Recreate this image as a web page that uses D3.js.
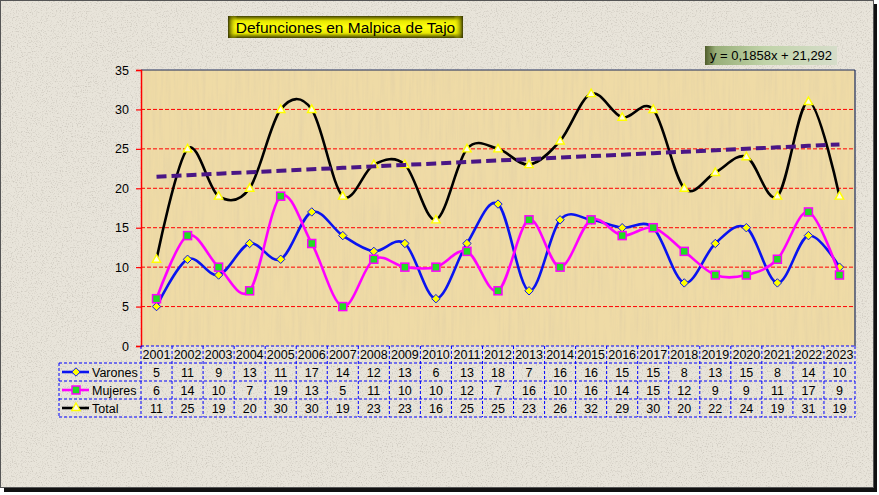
<!DOCTYPE html>
<html>
<head>
<meta charset="utf-8">
<script src="https://cdn.jsdelivr.net/npm/d3@7/dist/d3.min.js"></script>
<style>
html,body{margin:0;padding:0;background:#ffffff;}
svg{display:block;font-family:"Liberation Sans",Arial,sans-serif;}
</style>
</head>
<body>
<svg id="chart" width="879" height="495"></svg>
<script>
const years = ["2001","2002","2003","2004","2005","2006","2007","2008","2009","2010","2011","2012","2013","2014","2015","2016","2017","2018","2019","2020","2021","2022","2023"];
const varones = [5,11,9,13,11,17,14,12,13,6,13,18,7,16,16,15,15,8,13,15,8,14,10];
const mujeres = [6,14,10,7,19,13,5,11,10,10,12,7,16,10,16,14,15,12,9,9,11,17,9];
const total = [11,25,19,20,30,30,19,23,23,16,25,25,23,26,32,29,30,20,22,24,19,31,19];
const yTicks = [0,5,10,15,20,25,30,35];
const trendSlope = 0.1858;
const trendIntercept = 21.292;
const titleText = "Defunciones en Malpica de Tajo";
const trendLabel = "y = 0,1858x + 21,292";
const seriesNames = ["Varones","Mujeres","Total"];

const svg = d3.select("#chart");
const defs = svg.append("defs");

// textures
const fStone = defs.append("filter").attr("id","stone").attr("x",0).attr("y",0).attr("width","100%").attr("height","100%");
fStone.append("feTurbulence").attr("type","fractalNoise").attr("baseFrequency","0.8").attr("numOctaves",2).attr("seed",3).attr("result","n");
fStone.append("feColorMatrix").attr("in","n").attr("type","matrix")
  .attr("values","0 0 0 0 0.55  0 0 0 0 0.52  0 0 0 0 0.46  0 0 0 -3.2 1.55").attr("result","c");
fStone.append("feComposite").attr("in","c").attr("in2","SourceGraphic").attr("operator","in");

const fPap = defs.append("filter").attr("id","pap").attr("x",0).attr("y",0).attr("width","100%").attr("height","100%");
fPap.append("feTurbulence").attr("type","fractalNoise").attr("baseFrequency","0.35 0.02").attr("numOctaves",2).attr("seed",7).attr("result","n");
fPap.append("feColorMatrix").attr("in","n").attr("type","matrix")
  .attr("values","0 0 0 0 0.78  0 0 0 0 0.64  0 0 0 0 0.38  0 0 0 -1.6 1.0").attr("result","c");
fPap.append("feComposite").attr("in","c").attr("in2","SourceGraphic").attr("operator","in");

const gTitle = defs.append("linearGradient").attr("id","gTitle").attr("x1",0).attr("y1",0).attr("x2",0).attr("y2",1);
[["0%","#3e3e00"],["22%","#e8e800"],["50%","#ffff10"],["78%","#e8e800"],["100%","#3e3e00"]].forEach(s=>gTitle.append("stop").attr("offset",s[0]).attr("stop-color",s[1]));
const gTitleH = defs.append("linearGradient").attr("id","gTitleH").attr("x1",0).attr("y1",0).attr("x2",1).attr("y2",0);
[["0%","#2e2e00",0.95],["4%","#ffff00",0],["96%","#ffff00",0],["100%","#2e2e00",0.95]].forEach(s=>gTitleH.append("stop").attr("offset",s[0]).attr("stop-color",s[1]).attr("stop-opacity",s[2]));

const gTrend = defs.append("linearGradient").attr("id","gTrend").attr("x1",0).attr("y1",0).attr("x2",1).attr("y2",0);
[["0%","#4f5c2a"],["8%","#98ae78"],["45%","#c0d3a8"],["100%","#d6ddca"]].forEach(s=>gTrend.append("stop").attr("offset",s[0]).attr("stop-color",s[1]));

// frame
svg.append("rect").attr("x",4).attr("y",4).attr("width",873).attr("height",488).attr("fill","#111");
svg.append("rect").attr("x",0.5).attr("y",0.5).attr("width",873).attr("height",487).attr("fill","#e8e4da").attr("stroke","#555").attr("stroke-width",1);
svg.append("rect").attr("x",1).attr("y",1).attr("width",872).attr("height",486).attr("fill","#e8e4da").attr("filter","url(#stone)").attr("opacity",0.7);

// scales
const x = d3.scaleBand().domain(years).range([141,855]);
const y = d3.scaleLinear().domain([0,35]).range([346,70]);
const cx = d => x(d) + x.bandwidth()/2;

// plot area
svg.append("rect").attr("x",141).attr("y",70).attr("width",714).attr("height",276).attr("fill","#efdba6");
svg.append("rect").attr("x",141).attr("y",70).attr("width",714).attr("height",276).attr("fill","#efdba6").attr("filter","url(#pap)").attr("opacity",0.85);

// gridlines
svg.append("g").selectAll("line").data(yTicks.filter(t=>t>0 && t<35)).join("line")
  .attr("x1",141).attr("x2",855).attr("y1",d=>y(d)).attr("y2",d=>y(d))
  .attr("stroke","#ff0000").attr("stroke-width",1).attr("stroke-dasharray","4,2");
// top & right borders
svg.append("line").attr("x1",141).attr("x2",855).attr("y1",70).attr("y2",70).attr("stroke","#1c2a5a").attr("stroke-width",1.2);
svg.append("line").attr("x1",855).attr("x2",855).attr("y1",70).attr("y2",346).attr("stroke","#1c2a5a").attr("stroke-width",1.2);

// y axis
const yAxis = svg.append("g").attr("transform","translate(141,0)")
  .call(d3.axisLeft(y).tickValues(yTicks).tickSize(5).tickPadding(7).tickFormat(d3.format("d")));
yAxis.select(".domain").attr("stroke","#ff0000").attr("stroke-width",1.5);
yAxis.selectAll(".tick line").attr("stroke","#ff0000").attr("stroke-width",1.2);
yAxis.selectAll(".tick text").attr("fill","#000").attr("font-size",12.5).attr("font-family","Liberation Sans, Arial, sans-serif");

// lines
const line = d3.line().x((d,i)=>cx(years[i])).y(d=>y(d)).curve(d3.curveCardinal.tension(0));
const plot = svg.append("g");
const seriesDefs = [
  {name:seriesNames[0], data:varones, color:"#0a14f0", marker:"diamond"},
  {name:seriesNames[1], data:mujeres, color:"#ff00ff", marker:"square"},
  {name:seriesNames[2], data:total, color:"#000000", marker:"triangle"}
];
function drawMarker(g, type, px, py){
  if(type==="diamond"){
    g.append("path").attr("d",`M${px},${py-4.2}L${px+4.2},${py}L${px},${py+4.2}L${px-4.2},${py}Z`)
      .attr("fill","#ffff00").attr("stroke","#0a14f0").attr("stroke-width",1);
  } else if(type==="square"){
    g.append("rect").attr("x",px-4).attr("y",py-4).attr("width",8).attr("height",8)
      .attr("fill","#22dd22").attr("stroke","#ff00ff").attr("stroke-width",1.5);
  } else {
    g.append("path").attr("d",`M${px},${py-4.5}L${px+4.2},${py+3}L${px-4.2},${py+3}Z`)
      .attr("fill","#fffbe6").attr("stroke","#ffff00").attr("stroke-width",1.4);
  }
}
seriesDefs.forEach(s=>{
  plot.append("path").datum(s.data).attr("d",line).attr("fill","none")
    .attr("stroke",s.color).attr("stroke-width",2.6);
  const mg = plot.append("g");
  s.data.forEach((v,i)=>drawMarker(mg, s.marker, cx(years[i]), y(v)));
});

// trendline
const trendPts = years.map((yr,i)=>[cx(yr), y(trendSlope*(i+1)+trendIntercept)]);
plot.append("path").attr("d",d3.line()(trendPts)).attr("fill","none")
  .attr("stroke","#4a1686").attr("stroke-width",4).attr("stroke-dasharray","10,5");

// table
const tbl = svg.append("g");
const rowTops = [346,363,381,399,417];
const blue = "#0000ff";
const dash = "3,2";
const bounds = years.map(yr=>x(yr)).concat([855]);
tbl.selectAll("line.v").data(bounds).join("line").attr("class","v")
  .attr("x1",d=>d).attr("x2",d=>d).attr("y1",346).attr("y2",417)
  .attr("stroke",blue).attr("stroke-width",1).attr("stroke-dasharray",dash);
tbl.append("line").attr("x1",59).attr("x2",59).attr("y1",363).attr("y2",417).attr("stroke",blue).attr("stroke-dasharray",dash);
[363,381,399,417].forEach(yy=>{
  tbl.append("line").attr("x1",59).attr("x2",855).attr("y1",yy).attr("y2",yy).attr("stroke",blue).attr("stroke-dasharray",dash);
});
tbl.append("line").attr("x1",141).attr("x2",855).attr("y1",346).attr("y2",346).attr("stroke",blue).attr("stroke-dasharray",dash);

tbl.selectAll("text.yr").data(years).join("text").attr("class","yr")
  .attr("x",d=>cx(d)).attr("y",359).attr("text-anchor","middle").attr("font-size",12.5).attr("fill","#000").text(d=>d);

seriesDefs.forEach((s,r)=>{
  const top = rowTops[r+1], mid = (top + rowTops[r+2])/2;
  tbl.append("line").attr("x1",62).attr("x2",89).attr("y1",mid).attr("y2",mid).attr("stroke",s.color).attr("stroke-width",2.6);
  drawMarker(tbl, s.marker, 76, mid + (s.marker==="triangle"?-0.5:0));
  tbl.append("text").attr("x",92).attr("y",mid+4.5).attr("font-size",12.5).attr("fill","#000").text(s.name);
  tbl.selectAll(null).data(s.data).join("text")
    .attr("x",(d,i)=>cx(years[i])).attr("y",mid+4.5).attr("text-anchor","middle").attr("font-size",12.5).attr("fill","#000").text(d=>d);
});

// title
const tg = svg.append("g");
tg.append("rect").attr("x",228).attr("y",16).attr("width",235).attr("height",22).attr("fill","url(#gTitle)");
tg.append("rect").attr("x",228).attr("y",16).attr("width",235).attr("height",22).attr("fill","url(#gTitleH)");
tg.append("text").attr("x",345.5).attr("y",32.5).attr("text-anchor","middle").attr("font-size",15.5).attr("fill","#000").text(titleText);

// trend label
const lg = svg.append("g");
lg.append("rect").attr("x",705).attr("y",46).attr("width",132).attr("height",19).attr("fill","url(#gTrend)");
lg.append("text").attr("x",771).attr("y",60).attr("text-anchor","middle").attr("font-size",13).attr("fill","#000").text(trendLabel);
</script>
</body>
</html>
